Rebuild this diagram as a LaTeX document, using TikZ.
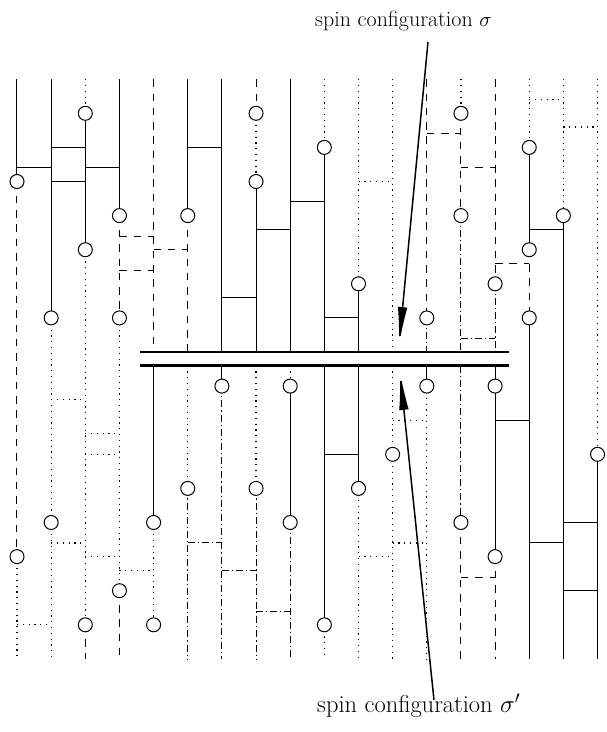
\documentclass[tikz,border=0pt]{standalone}
\usetikzlibrary{arrows.meta}
\begin{document}
% Space-time picture: 18 vertical time lines, flip marks (circles),
% bonds between neighbouring lines, and the two time slices sigma / sigma'.
\begin{tikzpicture}[x=34.15pt, y=-34.1pt,
  sol/.style={line width=1pt},
  dsh/.style={line width=1pt, dash pattern=on 7.5pt off 6.8pt},
  dtt/.style={line width=1.2pt, dash pattern=on 1.2pt off 4.6pt},
  dsd/.style={line width=1pt, dash pattern=on 7pt off 3pt on 1.2pt off 3pt},
  flip/.style={circle, draw, fill=white, line width=1pt, minimum size=14pt, inner sep=0pt},
  slab/.style={line width=2.3pt},
  lbl/.style={inner sep=0pt},
  arr/.style={line width=1.5pt, -{Latex[length=38pt,width=9.5pt]}}]
\useasboundingbox (-0.4978,-2.3226) rectangle (17.2767,19.1437);

% vertical pieces: column / from / to / style
\foreach \c/\a/\b/\s in {
  0/0/3/sol, 0/3/14/dsh, 0/14/17/dtt,
  1/0/7/sol, 1/7/13/dtt, 1/13/17/dtt,
  2/0/1/dtt, 2/1/5/sol, 2/5/16/dtt, 2/16/17/dsh,
  3/0/4/sol, 3/4/7/dsh, 3/7/15/dtt, 3/15/17/dsh,
  4/0/8/dsh, 4/8.4/13/sol, 4/13/16/dtt,
  5/0/4/sol, 5/4/8/dsh, 5/8.4/12/dtt, 5/12/17/dsd,
  6/0/8/sol, 6/8.4/9/sol, 6/9/17/dsd,
  7/0/1/dsh, 7/1/3/dtt, 7/3/8/sol, 7/8.4/12/dtt, 7/12/17/dsd,
  8/0/8/sol, 8/8.4/9/dtt, 8/9/13/sol, 8/13/17/dsd,
  9/0/2/dtt, 9/2/8/sol, 9/8.4/16/sol, 9/16/17/dtt,
  10/0/6/dtt, 10/6/8/sol, 10/8.4/12/sol, 10/12/17/dtt,
  11/0/8/dtt, 11/8.4/11/dtt, 11/11/17/dtt,
  12/0/7/dsh, 12/7/8/dsd, 12/8.4/9/sol, 12/9/17/dtt,
  13/0/1/dtt, 13/1/4/dsh, 13/4/8/dsd, 13/8.4/13/dsd, 13/13/17/dsh,
  14/0/6/dsh, 14/6/8/dsd, 14/8.4/9/sol, 14/9/14/sol, 14/14/17/dsh,
  15/0/2/dtt, 15/2/5/sol, 15/5/7/dsh, 15/7/17/sol,
  16/0/4/dtt, 16/4/17/sol,
  17/0/11/dtt, 17/11/17/sol}
  \draw[\s] (\c,\a) -- (\c,\b);

% bonds: left column / level / style
\foreach \c/\l/\s in {
  0/2.6/sol, 1/2/sol, 1/3/sol, 2/2.6/sol, 3/4.6/dsh, 4/5/dsh, 3/5.6/dsh,
  5/2/sol, 6/6.4/sol, 7/4.4/sol, 8/3.6/sol, 9/7/sol, 10/3/dtt,
  12/1.6/dsh, 13/2.6/dsh, 13/7.6/dsd, 14/5.4/dsh, 15/0.6/dtt, 16/1.4/dtt,
  15/4.4/sol,
  1/9.4/dtt, 2/10.4/dtt, 2/11/dtt, 1/13.6/dtt, 2/14/dtt, 3/14.4/dtt,
  0/16/dtt, 5/13.6/dsd, 6/14.4/dsd, 7/15.6/dsd, 9/11/sol, 10/14/dtt,
  11/13.6/dtt, 11/10/dtt, 13/14.6/dsh, 14/10/sol, 15/13.6/sol,
  16/13/sol, 16/15/sol}
  \draw[\s] (\c,\l) -- ({\c+1},\l);

% the two time slices
\draw[slab] (3.6,8) -- (14.4,8);
\draw[slab] (3.6,8.4) -- (14.4,8.4);

% flip marks: column / level
\foreach \c/\l in {
  0/3, 0/14, 1/7, 1/13, 2/1, 2/5, 2/16, 3/4, 3/7, 3/15, 4/13, 4/16,
  5/4, 5/12, 6/9, 7/1, 7/3, 7/12, 8/9, 8/13, 9/2, 9/16, 10/6, 10/12,
  11/11, 12/7, 12/9, 13/1, 13/4, 13/13, 14/6, 14/9, 14/14,
  15/2, 15/5, 15/7, 16/4, 17/11}
  \node[flip] (f-\c-\l) at (\c,\l) {};

% labels and pointers
\node[lbl, anchor=base west, font=\fontsize{22}{26}\selectfont] (sigma)
  at (8.726,-1.531) {spin configuration $\sigma$};
\node[lbl, anchor=base west, font=\fontsize{24.5}{29}\selectfont] (sigmap)
  at (8.785,18.586) {spin configuration $\sigma'$};
\coordinate (tailA) at (12.035,-1.091);
\coordinate (tipA) at (11.186,7.795);
\coordinate (tailB) at (12.21,18.2);
\coordinate (tipB) at (11.215,8.585);
\draw[arr] (tailA) -- (tipA);
\draw[arr] (tailB) -- (tipB);
\end{tikzpicture}
\end{document}
